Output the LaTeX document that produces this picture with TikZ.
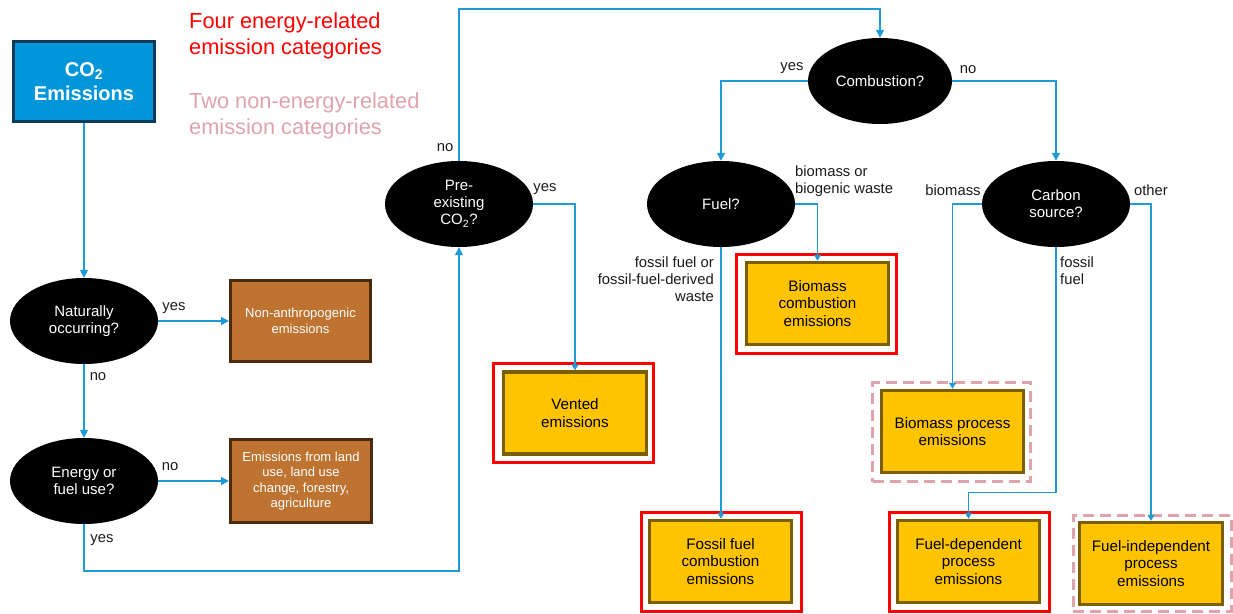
\documentclass[tikz,border=0pt]{standalone}
\usepackage{fontspec}
\setmainfont{Liberation Sans}
\usetikzlibrary{shapes.geometric,arrows.meta}
\definecolor{co2fill}{HTML}{0096D9}
\definecolor{co2draw}{HTML}{0B3A5B}
\definecolor{lblue}{HTML}{1E9AD8}
\definecolor{brn}{HTML}{BE7330}
\definecolor{brnd}{HTML}{4A2B0E}
\definecolor{yel}{HTML}{FFC400}
\definecolor{yeld}{HTML}{7B5E00}
\definecolor{pinkf}{HTML}{DFA3AC}
\definecolor{lbltxt}{HTML}{1A1A1A}
\tikzset{
  q/.style={ellipse, fill=black, text=white, minimum width=148pt, minimum height=86pt, inner sep=0pt, align=center, font=\fontsize{15}{17}\selectfont},
  brownbox/.style={rectangle, fill=brn, draw=brnd, line width=3pt, text=white, align=center, inner sep=2pt, font=\fontsize{13}{15.5}\selectfont},
  ybox/.style={rectangle, fill=yel, draw=yeld, line width=3.5pt, text=black, align=center, inner sep=2pt, minimum width=142pt, minimum height=82pt, font=\fontsize{15.2}{17.3}\selectfont},
  redframe/.style={rectangle, draw=red, line width=3pt, minimum width=160pt, minimum height=99pt, inner sep=0pt},
  pinkframe/.style={rectangle, draw=pinkf, line width=3pt, dash pattern=on 11pt off 6pt, minimum width=158pt, minimum height=99pt, inner sep=0pt},
  conn/.style={draw=lblue, line width=1.5pt, -{Triangle[length=8pt,width=8pt]}},
  connsm/.style={draw=lblue, line width=1.2pt, -{Triangle[length=6pt,width=7pt]}},
  lbl/.style={text=lbltxt, inner sep=0pt, font=\fontsize{14.8}{17}\selectfont},
  legend/.style={inner sep=0pt, align=left, font=\fontsize{21.8}{26}\selectfont}
}
\begin{document}
\begin{tikzpicture}[x=1pt,y=-1pt]
\useasboundingbox (0,0) rectangle (1233,613);

% legend
\node[legend, text=red, anchor=west] (leg1) at (189,35.5) {Four energy-related\\emission categories};
\node[legend, text=pinkf, anchor=west] (leg2) at (189,115.5) {Two non-energy-related\\emission categories};

% left column
\node[rectangle, fill=co2fill, draw=co2draw, line width=3.5pt, minimum width=141pt, minimum height=80pt, text=white, align=center, font=\bfseries\fontsize{20}{24}\selectfont] (co2) at (84,81.5) {CO\textsubscript{2}\\Emissions};
\node[q] (nat) at (84,321) {Naturally\\occurring?};
\node[brownbox, minimum width=140pt, minimum height=81pt] (nonanth) at (300.5,321) {Non-anthropogenic\\emissions};
\node[q] (energy) at (84,481) {Energy or\\fuel use?};
\node[brownbox, minimum width=141pt, minimum height=83pt] (land) at (301,481) {Emissions from land\\use, land use\\change, forestry,\\agriculture};

% decisions
\node[q] (pre) at (459,204) {Pre-\\existing\\CO\textsubscript{2}?};
\node[q, minimum width=144pt] (comb) at (880,81) {Combustion?};
\node[q] (fuel) at (721,204) {Fuel?};
\node[q] (carbon) at (1056,204) {Carbon\\source?};

% outcome frames
\node[redframe] (ventf) at (573.5,413) {};
\node[ybox, minimum width=143pt] (vent) at (575,413) {Vented\\emissions};
\node[redframe] (bcombf) at (816,304) {};
\node[ybox] (bcomb) at (817.5,303.5) {Biomass\\combustion\\emissions};
\node[redframe] (fossilf) at (721,561.5) {};
\node[ybox] (fossil) at (720.5,561.5) {Fossil fuel\\combustion\\emissions};
\node[pinkframe] (bprocf) at (951.5,432) {};
\node[ybox] (bproc) at (952.5,431.5) {Biomass process\\emissions};
\node[redframe] (fdepf) at (969,561.5) {};
\node[ybox] (fdep) at (968.5,561.5) {Fuel-dependent\\process\\emissions};
\node[pinkframe, minimum height=96pt] (findepf) at (1152,563) {};
\node[ybox, minimum width=143pt] (findep) at (1151,563.5) {Fuel-independent\\process\\emissions};

% connectors
\draw[conn] (co2.south) -- (nat.north);
\draw[conn] (nat.east) -- (nonanth.west);
\draw[conn] (nat.south) -- (energy.north);
\draw[conn] (energy.east) -- (land.west);
\draw[conn] (energy.south) -- ++(0,47) -| (pre.south);
\draw[conn] (pre.north) -- ++(0,-152) -| (comb.north);
\draw[connsm] (pre.east) -| (vent.north);
\draw[conn] (comb.west) -| (fuel.north);
\draw[conn] (comb.east) -| (carbon.north);
\draw[connsm] (fuel.east) -| (bcomb.north);
\draw[connsm] (fuel.south) -- (fuel.south |- fossil.north);
\draw[connsm] (carbon.west) -| (bproc.north);
\draw[connsm] (carbon.south) -- ++(0,245) -| (fdep.north);
\draw[connsm] (carbon.east) -| (findep.north);

% labels
\node[lbl] (l1) at (174,308) {yes};
\node[lbl] (l2) at (98,377) {no};
\node[lbl] (l3) at (170,467) {no};
\node[lbl] (l4) at (102,540) {yes};
\node[lbl] (l5) at (445,148) {no};
\node[lbl] (l6) at (545,189) {yes};
\node[lbl] (l7) at (792,68) {yes};
\node[lbl] (l8) at (968,70) {no};
\node[lbl, anchor=west, align=left] (l9) at (795,181.5) {biomass or\\biogenic waste};
\node[lbl, anchor=east, align=right] (l10) at (714,279) {fossil fuel or\\fossil-fuel-derived\\waste};
\node[lbl] (l11) at (953,190) {biomass};
\node[lbl] (l12) at (1151,190) {other};
\node[lbl, anchor=west, align=left] (l13) at (1060,270.5) {fossil\\fuel};
\end{tikzpicture}
\end{document}
